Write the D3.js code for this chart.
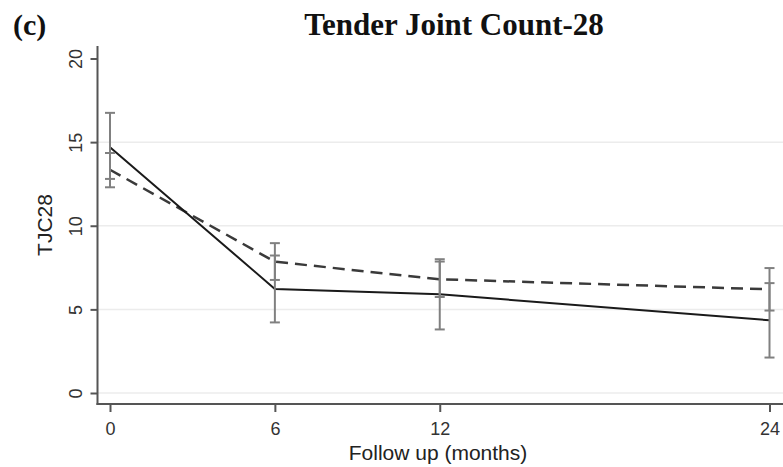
<!DOCTYPE html>
<html>
<head>
<meta charset="utf-8">
<script src="https://cdn.jsdelivr.net/npm/d3@7"></script>
<style>
  html, body { margin: 0; padding: 0; background: #fff; }
  svg { display: block; }
</style>
</head>
<body>
<div id="chart"></div>
<script>
const months = [0, 6, 12, 24];
const yTicks = [0, 5, 10, 15, 20];
const gridValues = [0, 5, 10, 15];

// solid line series with its confidence interval
const solidMean = [14.7, 6.22, 5.9, 4.35];
const solidLow = [12.8, 4.22, 3.8, 2.12];
const solidHigh = [16.75, 8.22, 8.0, 6.57];

// dashed line series with its confidence interval
const dashedMean = [13.35, 7.85, 6.8, 6.2];
const dashedLow = [12.3, 6.76, 5.74, 4.93];
const dashedHigh = [14.35, 8.96, 7.86, 7.47];

const width = 783;
const height = 467;

const svg = d3.select("#chart").append("svg")
  .attr("width", width)
  .attr("height", height);

const x = d3.scaleLinear().domain([0, 24]).range([110, 769.5]);
const y = d3.scaleLinear().domain([0, 20]).range([393, 58.5]);

const axisX = 97.5;   // position of y axis line
const axisY = 404;    // position of x axis line

// gridlines
svg.append("g")
  .selectAll("line")
  .data(gridValues)
  .join("line")
  .attr("x1", axisX)
  .attr("x2", width)
  .attr("y1", d => y(d))
  .attr("y2", d => y(d))
  .attr("stroke", "#ececec")
  .attr("stroke-width", 1.5);

// y axis
const yAxis = svg.append("g")
  .attr("transform", `translate(${axisX},0)`)
  .call(d3.axisLeft(y).tickValues(yTicks).tickSize(7).tickFormat(d3.format("d")));
yAxis.select(".domain").remove();
yAxis.selectAll(".tick line").attr("stroke", "#555").attr("stroke-width", 2);
yAxis.selectAll(".tick text")
  .attr("x", null).attr("dy", null)
  .attr("transform", "translate(-16,0) rotate(-90)")
  .attr("text-anchor", "middle")
  .attr("fill", "#333")
  .style("font", "18px 'Liberation Sans', Arial, sans-serif");

svg.append("line")
  .attr("x1", axisX).attr("x2", axisX)
  .attr("y1", 46).attr("y2", axisY + 1)
  .attr("stroke", "#555").attr("stroke-width", 2);

// x axis
const xAxis = svg.append("g")
  .attr("transform", `translate(0,${axisY})`)
  .call(d3.axisBottom(x).tickValues(months).tickSize(8).tickFormat(d3.format("d")));
xAxis.select(".domain").remove();
xAxis.selectAll(".tick line").attr("stroke", "#555").attr("stroke-width", 2);
xAxis.selectAll(".tick text")
  .attr("y", 31).attr("dy", null)
  .attr("fill", "#333")
  .style("font", "18px 'Liberation Sans', Arial, sans-serif");

svg.append("line")
  .attr("x1", axisX - 1).attr("x2", width)
  .attr("y1", axisY).attr("y2", axisY)
  .attr("stroke", "#555").attr("stroke-width", 2);

// lines
const line = d3.line()
  .x(d => x(d[0]))
  .y(d => y(d[1]));

svg.append("path")
  .datum(months.map((m, i) => [m, dashedMean[i]]))
  .attr("d", line)
  .attr("fill", "none")
  .attr("stroke", "#3a3a3a")
  .attr("stroke-width", 2.5)
  .attr("stroke-dasharray", "12,7");

svg.append("path")
  .datum(months.map((m, i) => [m, solidMean[i]]))
  .attr("d", line)
  .attr("fill", "none")
  .attr("stroke", "#1a1a1a")
  .attr("stroke-width", 2);

// error bars (capped spikes)
function drawCI(low, high) {
  const g = svg.append("g")
    .attr("stroke", "#808080")
    .attr("stroke-width", 2)
    .attr("fill", "none");
  const data = months.map((m, i) => ({ m, lo: low[i], hi: high[i] }));
  g.selectAll(".spike").data(data).join("line")
    .attr("x1", d => x(d.m)).attr("x2", d => x(d.m))
    .attr("y1", d => y(d.lo)).attr("y2", d => y(d.hi));
  g.selectAll(".capLo").data(data).join("line")
    .attr("x1", d => x(d.m) - 5).attr("x2", d => x(d.m) + 5)
    .attr("y1", d => y(d.lo)).attr("y2", d => y(d.lo));
  g.selectAll(".capHi").data(data).join("line")
    .attr("x1", d => x(d.m) - 5).attr("x2", d => x(d.m) + 5)
    .attr("y1", d => y(d.hi)).attr("y2", d => y(d.hi));
}
drawCI(solidLow, solidHigh);
drawCI(dashedLow, dashedHigh);

// axis titles
svg.append("text")
  .attr("transform", "translate(52,225) rotate(-90)")
  .attr("text-anchor", "middle")
  .attr("fill", "#222")
  .style("font", "21px 'Liberation Sans', Arial, sans-serif")
  .text("TJC28");

svg.append("text")
  .attr("x", 438)
  .attr("y", 460)
  .attr("text-anchor", "middle")
  .attr("fill", "#222")
  .style("font", "21px 'Liberation Sans', Arial, sans-serif")
  .text("Follow up (months)");

// title and panel letter
svg.append("text")
  .attr("x", 454)
  .attr("y", 35)
  .attr("text-anchor", "middle")
  .attr("fill", "#111")
  .style("font", "bold 31px 'Liberation Serif', 'Times New Roman', serif")
  .text("Tender Joint Count-28");

svg.append("text")
  .attr("x", 13)
  .attr("y", 35)
  .attr("fill", "#111")
  .style("font", "bold 30px 'Liberation Serif', 'Times New Roman', serif")
  .text("(c)");
</script>
</body>
</html>
